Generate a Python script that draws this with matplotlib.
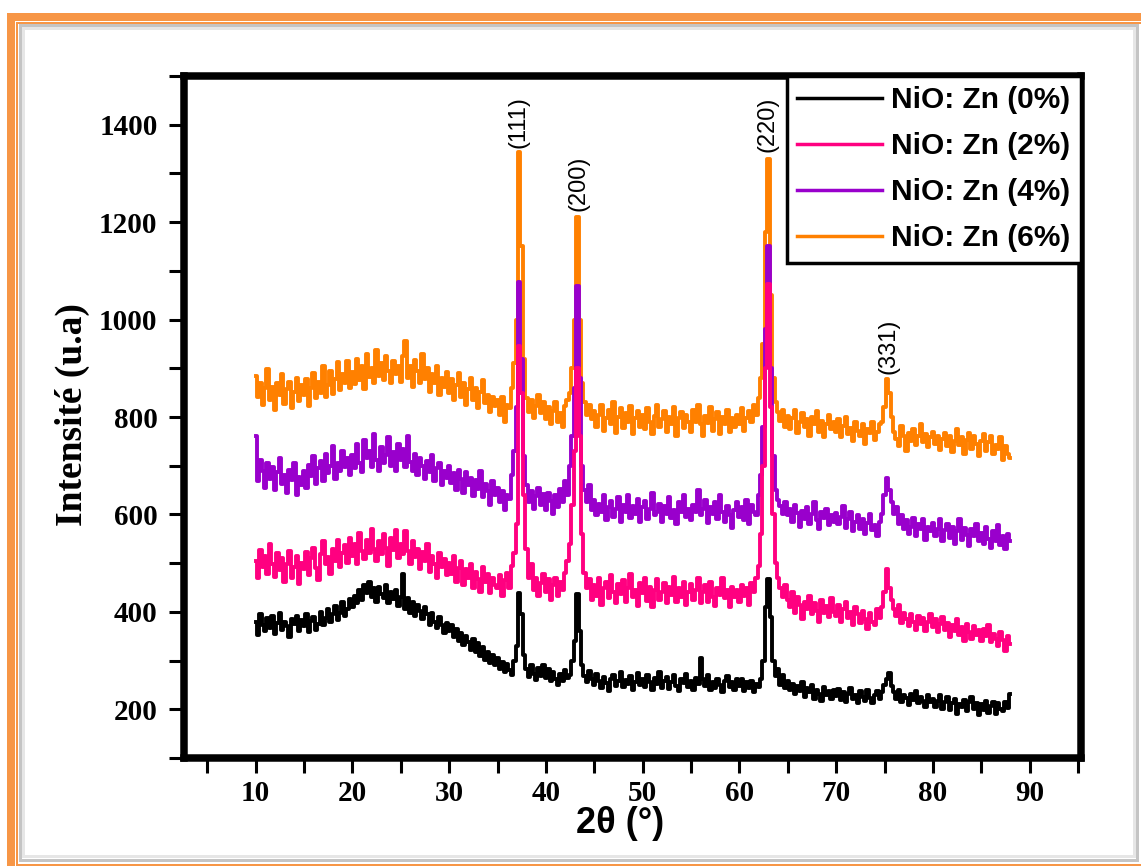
import numpy as np
import matplotlib
matplotlib.use("Agg")
import matplotlib.pyplot as plt
from matplotlib.patches import Rectangle
from matplotlib.ticker import MultipleLocator

# scan: 2theta from 10 to 88 deg, step 0.25 deg
scan_start, scan_stop, scan_step = 10.0, 88.0, 0.25

zn0 = [
    380, 352, 395, 372, 360, 388, 366, 392, 355, 378, 398, 362, 380, 371, 348, 386, 375, 392, 360, 384,  # 10
    370, 395, 358, 381, 390, 362, 376, 400, 372, 388, 405, 379, 395, 412, 383, 398, 420, 392, 405, 426,  # 15
    410, 432, 418, 445, 424, 456, 438, 462, 430, 448, 420, 452, 436, 428, 455, 418, 440, 426, 445, 412,  # 20
    430, 477, 405, 428, 398, 420, 392, 415, 402, 386, 410, 395, 372, 398, 380, 366, 390, 372, 356, 378,  # 25
    360, 372, 348, 365, 340, 356, 332, 350, 338, 322, 345, 318, 336, 310, 328, 302, 318, 296, 312, 290,  # 30
    305, 282, 298, 276, 292, 280, 270, 300, 330, 438, 395, 312, 282, 266, 290, 272, 260, 285, 268, 290,  # 35
    265, 282, 258, 276, 262, 250, 272, 258, 280, 265, 270, 300, 340, 436, 360, 290, 268, 255, 278, 262,  # 40
    250, 272, 258, 244, 266, 254, 238, 262, 270, 248, 258, 276, 245, 260, 252, 268, 240, 256, 274, 250,  # 45
    262, 246, 270, 255, 240, 265, 252, 276, 244, 258, 266, 242, 256, 270, 248, 238, 262, 254, 272, 246,  # 50
    258, 240, 265, 252, 305, 262, 248, 270, 240, 256, 244, 262, 250, 236, 258, 268, 245, 256, 240, 262,  # 55
    248, 262, 238, 255, 244, 258, 236, 252, 246, 262, 300, 410, 467, 390, 300, 268, 282, 250, 270, 244,  # 60
    258, 240, 252, 232, 248, 238, 255, 226, 244, 236, 250, 222, 240, 232, 218, 246, 230, 238, 222, 240,  # 65
    228, 242, 220, 236, 215, 232, 244, 222, 230, 212, 238, 226, 218, 240, 224, 212, 230, 238, 222, 235,  # 70
    250, 262, 274, 248, 236, 222, 240, 215, 230, 224, 208, 232, 220, 238, 212, 226, 218, 205, 230, 214,  # 75
    222, 205, 218, 230, 200, 215, 226, 198, 212, 222, 190, 210, 204, 220, 196, 214, 225, 200, 212, 188,  # 80
    210, 198, 218, 192, 206, 215, 190, 212, 200, 196, 215, 202, 232,  # 85
]

zn2 = [
    505, 470, 528, 492, 515, 478, 540, 498, 472, 520, 485, 510, 462, 498, 525, 470, 492, 515, 458, 500,
    488, 522, 476, 510, 532, 490, 465, 518, 545, 498, 512, 478, 530, 505, 548, 492, 520, 538, 500, 552,
    515, 540, 498, 562, 525, 508, 548, 520, 570, 530, 505, 545, 518, 560, 532, 495, 552, 528, 568, 510,
    540, 518, 565, 525, 498, 545, 512, 530, 488, 522, 505, 540, 482, 515, 498, 470, 520, 492, 508, 475,
    500, 478, 515, 462, 490, 505, 455, 488, 470, 498, 450, 482, 468, 440, 492, 462, 478, 438, 470, 455,
    448, 475, 432, 465, 480, 450, 495, 520, 580, 945, 850, 640, 530, 470, 498, 445, 470, 432, 460, 478,
    440, 468, 425, 455, 470, 432, 462, 445, 480, 505, 540, 620, 730, 900, 760, 560, 480, 450, 468, 425,
    455, 432, 470, 415, 448, 462, 428, 475, 440, 418, 458, 436, 465, 420, 450, 478, 430, 445, 412, 460,
    438, 470, 422, 452, 410, 445, 468, 425, 440, 460, 418, 452, 435, 472, 420, 448, 430, 462, 415, 440,
    458, 425, 445, 470, 418, 440, 455, 420, 462, 430, 412, 448, 435, 470, 428, 445, 410, 452, 430, 445,
    420, 455, 432, 448, 415, 460, 440, 470, 495, 560, 700, 900, 1072, 820, 600, 500, 470, 448, 430, 455,
    425, 410, 440, 398, 430, 415, 385, 420, 405, 432, 395, 418, 402, 380, 425, 398, 412, 390, 428, 400,
    392, 415, 380, 405, 420, 388, 400, 372, 410, 395, 378, 402, 385, 365, 398, 380, 372, 405, 388, 410,
    440, 487, 450, 425, 405, 392, 415, 378, 398, 385, 370, 395, 380, 362, 392, 375, 388, 360, 380, 395,
    368, 385, 358, 375, 390, 362, 378, 348, 372, 360, 385, 352, 368, 340, 375, 358, 345, 370, 352, 362,
    340, 365, 350, 372, 338, 355, 345, 330, 358, 342, 320, 350, 335,
]

zn4 = [
    760, 668, 712, 690, 655, 705, 672, 698, 650, 688, 715, 662, 680, 645, 692, 670, 705, 640, 676, 660,
    690, 655, 702, 678, 720, 662, 695, 710, 668, 725, 685, 700, 740, 672, 705, 690, 730, 698, 715, 680,
    722, 695, 745, 705, 688, 752, 715, 730, 698, 765, 712, 690, 738, 705, 722, 758, 700, 728, 690, 745,
    712, 735, 698, 762, 708, 690, 725, 680, 715, 700, 672, 710, 688, 722, 668, 695, 705, 660, 690, 675,
    700, 665, 685, 650, 692, 672, 645, 688, 660, 675, 638, 670, 652, 690, 635, 662, 648, 620, 668, 640,
    655, 625, 648, 610, 640, 632, 680, 730, 820, 1078, 920, 720, 660, 625, 648, 612, 638, 655, 620, 642,
    610, 645, 628, 600, 640, 615, 652, 625, 668, 640, 700, 760, 860, 1068, 880, 700, 650, 625, 660, 610,
    630, 598, 622, 605, 640, 588, 615, 628, 595, 612, 635, 585, 620, 605, 640, 592, 618, 600, 632, 585,
    615, 628, 590, 612, 645, 598, 605, 622, 585, 618, 600, 635, 592, 610, 580, 625, 605, 640, 595, 612,
    588, 620, 605, 650, 598, 612, 630, 582, 615, 600, 625, 590, 640, 605, 585, 618, 598, 572, 610, 625,
    595, 615, 588, 630, 580, 620, 605, 598, 640, 680, 780, 980, 1150, 900, 720, 650, 630, 618, 600, 625,
    598, 612, 585, 620, 602, 575, 608, 590, 615, 580, 600, 625, 588, 570, 605, 592, 612, 578, 598, 585,
    602, 580, 595, 618, 572, 590, 605, 565, 585, 598, 570, 590, 560, 582, 600, 568, 578, 555, 585, 600,
    640, 674, 650, 625, 600, 615, 580, 598, 570, 588, 560, 575, 592, 555, 580, 570, 590, 548, 575, 565,
    582, 555, 570, 590, 545, 568, 580, 552, 575, 540, 565, 590, 548, 572, 558, 535, 570, 555, 580, 545,
    562, 540, 575, 550, 532, 565, 545, 578, 538, 555, 530, 560, 545,
]

zn6 = [
    885, 842, 870, 825, 860, 898, 835, 862, 815, 870, 845, 888, 826, 858, 872, 818, 852, 880, 832, 866,
    845, 878, 822, 860, 890, 838, 872, 850, 905, 842, 866, 895, 848, 878, 912, 855, 888, 870, 915, 860,
    892, 868, 920, 875, 905, 858, 930, 882, 900, 870, 938, 885, 910, 875, 925, 895, 870, 915, 888, 905,
    872, 925, 955, 880, 905, 862, 918, 895, 870, 930, 878, 900, 852, 888, 870, 905, 845, 880, 862, 892,
    850, 878, 835, 865, 890, 842, 870, 825, 858, 880, 835, 860, 818, 852, 875, 828, 845, 810, 842, 822,
    835, 805, 842, 790, 825, 818, 860, 910, 1000, 1345, 1150, 920, 840, 810, 835, 798, 822, 845, 808, 830,
    795, 820, 785, 812, 830, 790, 808, 780, 822, 835, 850, 900, 1000, 1210, 1000, 870, 830, 805, 825, 795,
    812, 780, 805, 825, 772, 798, 815, 785, 830, 768, 800, 818, 778, 808, 790, 822, 765, 798, 812, 780,
    805, 775, 818, 790, 765, 802, 825, 780, 795, 812, 770, 800, 785, 820, 762, 798, 810, 778, 805, 790,
    770, 815, 790, 825, 785, 760, 802, 788, 820, 772, 795, 810, 765, 800, 785, 815, 770, 798, 780, 805,
    785, 818, 772, 798, 812, 790, 825, 805, 840, 880, 950, 1180, 1330, 1050, 880, 830, 810, 792, 815, 780,
    802, 775, 798, 815, 768, 790, 808, 780, 795, 762, 800, 785, 812, 770, 792, 758, 785, 805, 775, 790,
    770, 795, 758, 782, 800, 765, 778, 750, 790, 772, 760, 785, 745, 775, 768, 790, 752, 770, 785, 790,
    820, 877, 850, 800, 770, 755, 740, 782, 760, 730, 768, 750, 775, 742, 760, 785, 748, 765, 738, 758,
    770, 745, 760, 732, 755, 768, 740, 762, 728, 750, 775, 742, 758, 725, 752, 768, 735, 760, 745, 720,
    750, 765, 730, 748, 760, 725, 742, 735, 758, 712, 740, 725, 715,
]

labels = ["NiO: Zn (0%)", "NiO: Zn (2%)", "NiO: Zn (4%)", "NiO: Zn (6%)"]
colors = ["#000000", "#FF0080", "#9900CC", "#FF8000"]

peak_names = ["(111)", "(200)", "(220)", "(331)"]
peak_pos = [37.2, 43.4, 62.85, 75.4]
peak_top = [1352, 1222, 1343, 888]

two_theta = np.arange(scan_start, scan_stop + scan_step / 2, scan_step)
series = [zn0, zn2, zn4, zn6]

W, H = 1141, 866
fig = plt.figure(figsize=(W / 100, H / 100), dpi=100)
fig.patch.set_facecolor("white")

# orange page frame (pixel boxes, top-left origin)
def frame_box(x0, y0, x1, y1, color, lw):
    r = Rectangle((x0 / W, 1 - y1 / H), (x1 - x0) / W, (y1 - y0) / H,
                  transform=fig.transFigure, fill=False, edgecolor=color,
                  linewidth=lw * 0.72, clip_on=False)
    fig.add_artist(r)

frame_box(11, 16.5, 1148, 869, "#F79646", 8)
frame_box(17, 22.5, 1142, 864.5, "#F79646", 2)
frame_box(20, 25, 1137, 860, "#c4c4c4", 3)
frame_box(23, 28, 1134, 856, "#e6e6e6", 3)

ax = fig.add_axes([184 / W, 1 - 758 / H, (1081 - 184) / W, (758 - 76) / H])

zorders = [4, 3, 2, 1]
for y, lab, c, z in zip(series, labels, colors, zorders):
    ax.plot(two_theta, y, color=c, lw=2.8, label=lab, zorder=z,
            drawstyle="steps-mid")

for name, xp, yp in zip(peak_names, peak_pos, peak_top):
    ax.text(xp, yp, name, rotation=90, ha="center", va="bottom",
            fontsize=17, family="Liberation Sans")

ax.set_xlim(2.6, 95.3)
ax.set_ylim(100, 1500)
ax.xaxis.set_major_locator(MultipleLocator(10))
ax.xaxis.set_minor_locator(MultipleLocator(5))
ax.yaxis.set_major_locator(MultipleLocator(200))
ax.yaxis.set_minor_locator(MultipleLocator(100))
ax.tick_params(which="both", direction="out", length=11, width=2.2,
               top=False, right=False)
ax.tick_params(axis="y", which="major", pad=8, labelsize=21)
ax.tick_params(axis="x", which="major", pad=5, labelsize=21)
for t in ax.get_xticklabels() + ax.get_yticklabels():
    t.set_fontfamily("Liberation Serif")
    t.set_fontweight("bold")

for s in ax.spines.values():
    s.set_linewidth(5.4)

ax.set_ylabel("Intensité (u.a)", fontfamily="Liberation Serif",
              fontweight="bold", fontsize=27)
ax.yaxis.set_label_coords(-0.105, 0.504)
ax.set_xlabel("2θ (°)", fontfamily="Liberation Sans", fontweight="bold",
              fontsize=26)
ax.xaxis.set_label_coords(0.486, -0.07)

leg = ax.legend(loc="upper right", borderaxespad=0,
                prop=dict(family="Liberation Sans", weight="bold", size=21.5),
                handlelength=2.85, handletextpad=0.3, labelspacing=0.6,
                borderpad=0.35, fancybox=False, framealpha=1,
                edgecolor="black")
leg.get_frame().set_linewidth(2.5)
for line in leg.get_lines():
    line.set_linewidth(2.5)

fig.savefig("out.png", dpi=100)
